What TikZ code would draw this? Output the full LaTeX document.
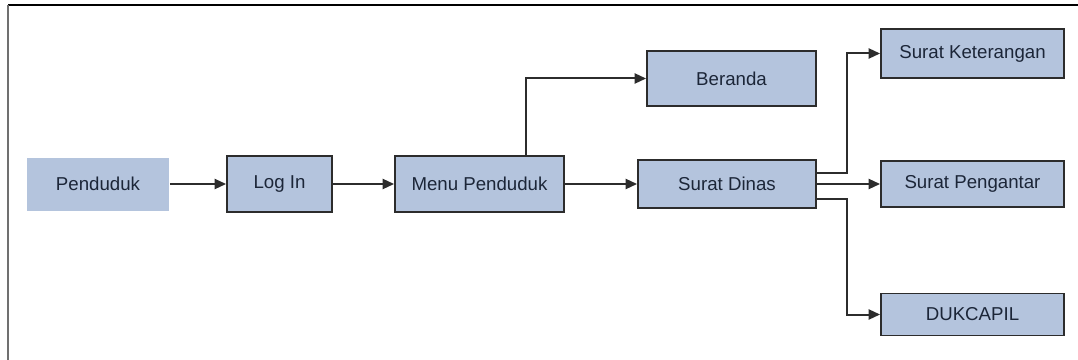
\documentclass[tikz,border=0pt]{standalone}
\usepackage{fontspec}
\setmainfont{Liberation Sans}
\usetikzlibrary{arrows.meta}
\definecolor{boxfill}{RGB}{180,196,221}
\definecolor{boxtext}{RGB}{28,38,56}
\definecolor{boxline}{RGB}{44,44,44}
\definecolor{frameside}{RGB}{112,112,112}
\tikzset{
  flowbox/.style={rectangle, fill=boxfill, draw=boxline, line width=1.4pt,
    text=boxtext, font=\fontsize{14}{16}\selectfont, inner sep=0pt},
  plainbox/.style={flowbox, draw=none},
  link/.style={draw=boxline, line width=1.5pt,
    -{Triangle[length=8.5pt,width=7.5pt]}}
}
\begin{document}
\begin{tikzpicture}[x=0.75pt,y=-0.75pt]
\useasboundingbox (0,0) rectangle (1078,360);
% outer frame: black top edge, grey left edge
\draw[line width=1.5pt, black] (8,5) -- (1078,5);
\draw[line width=1.5pt, frameside] (8,5) -- (8,360);

\node[plainbox, minimum width=106.5pt, minimum height=39.75pt] (pend) at (98,184) {Penduduk};
\node[flowbox, minimum width=78.75pt, minimum height=42pt] (login) at (279.5,184) {Log In};
\node[flowbox, minimum width=126.75pt, minimum height=42pt] (menu) at (479.5,184) {Menu Penduduk};
\node[flowbox, minimum width=126.75pt, minimum height=41.25pt] (beranda) at (731.5,78.5) {Beranda};
\node[flowbox, minimum width=133.5pt, minimum height=36pt] (dinas) at (727,184) {Surat Dinas};
\node[flowbox, minimum width=137.25pt, minimum height=36.75pt] (ket) at (972.5,53.5) {Surat Keterangan};
\node[flowbox, minimum width=137.25pt, minimum height=34pt] (peng) at (972.5,184) {Surat Pengantar};
\node[flowbox, minimum width=137.25pt, minimum height=31.5pt] (duk) at (972.5,314.5) {DUKCAPIL};

\draw[link] (pend.east) -- (login.west);
\draw[link] (login.east) -- (menu.west);
\draw[link] (menu.east) -- (dinas.west);
\draw[link] ([xshift=34.9pt]menu.north) |- (beranda.west);
\draw[link] ([yshift=8.25pt]dinas.east) -- ++(22.5pt,0) |- (ket.west);
\draw[link] (dinas.east) -- (peng.west);
\draw[link] ([yshift=-11.25pt]dinas.east) -- ++(22.5pt,0) |- (duk.west);
\end{tikzpicture}
\end{document}
